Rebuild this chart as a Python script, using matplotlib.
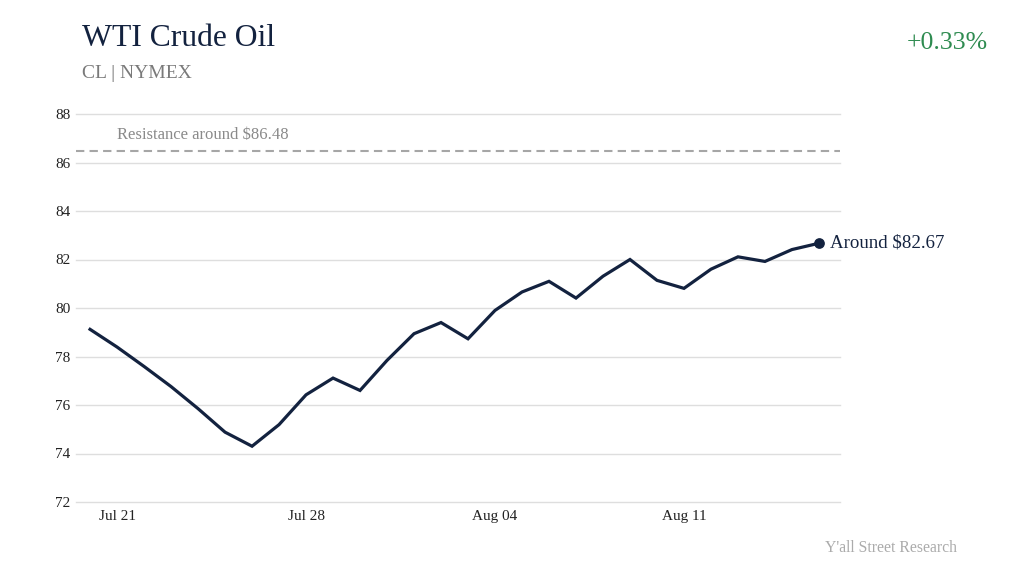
import pandas as pd
import matplotlib.pyplot as plt
import matplotlib.dates as mdates

# precios de cierre (diarios, 20 jul - 16 ago)
prices = [79.12, 78.39, 77.59, 76.76, 75.85, 74.88, 74.30, 75.19, 76.42, 77.11,
          76.60, 77.84, 78.94, 79.40, 78.73, 79.90, 80.66, 81.10, 80.41, 81.31,
          82.00, 81.14, 80.81, 81.60, 82.11, 81.92, 82.41, 82.67]
dates = pd.date_range('2023-07-20', periods=len(prices), freq='D')
tick_dates = pd.to_datetime(['2023-07-21', '2023-07-28', '2023-08-04', '2023-08-11'])
y_ticks = [72, 74, 76, 78, 80, 82, 84, 86, 88]
resistance = 86.48
last_price = 82.67
change_pct = '+0.33%'

navy = '#13223f'
plt.rcParams['font.family'] = ['Liberation Serif', 'DejaVu Serif']

fig = plt.figure(figsize=(10.24, 5.7), dpi=100)
ax = fig.add_axes([76 / 1024, 1 - 502 / 570, 764 / 1024, 388 / 570])

ax.plot(dates, prices, color=navy, lw=2.3, solid_joinstyle='miter', zorder=3)
ax.scatter([dates[-1]], [prices[-1]], color=navy, s=45, zorder=4)
ax.annotate(f'Around ${last_price:.2f}', (dates[-1], prices[-1]), xytext=(8, 0),
            textcoords='offset points', va='center', ha='left',
            fontsize=13.6, color=navy)

ax.axhline(resistance, color='#a6a6a6', lw=1.5, ls=(0, (4, 2.5)), zorder=2)
ax.text(tick_dates[0], resistance + 0.33, f'Resistance around ${resistance:.2f}',
        ha='left', va='bottom', fontsize=12, color='#8a8a8a')

ax.set_ylim(72, 88)
ax.set_yticks(y_ticks)
ax.set_xlim(dates[0] - pd.Timedelta(hours=12.5), dates[-1] + pd.Timedelta(hours=18.7))
ax.set_xticks(tick_dates)
ax.xaxis.set_major_formatter(mdates.DateFormatter('%b %d'))
ax.grid(axis='y', color='#dedede', lw=1)
for gl in ax.get_ygridlines():
    gl.set_clip_on(False)
ax.set_axisbelow(True)
for s in ax.spines.values():
    s.set_visible(False)
ax.tick_params(length=0, labelsize=11, colors='#222222')
ax.tick_params(axis='y', pad=4)
ax.tick_params(axis='x', pad=6)

fig.text(82 / 1024, 1 - 38 / 570, 'WTI Crude Oil', fontsize=22.8, color=navy, va='center')
fig.text(82 / 1024, 1 - 73 / 570, 'CL | NYMEX', fontsize=14, color='#7a7a7a', va='center')
fig.text(988 / 1024, 1 - 43 / 570, change_pct, fontsize=18.5, color='#2e8b50',
         va='center', ha='right')
fig.text(957 / 1024, 1 - 548 / 570, "Y'all Street Research", fontsize=11.3,
         color='#ababab', va='center', ha='right')

fig.savefig('out.png', dpi=100)
